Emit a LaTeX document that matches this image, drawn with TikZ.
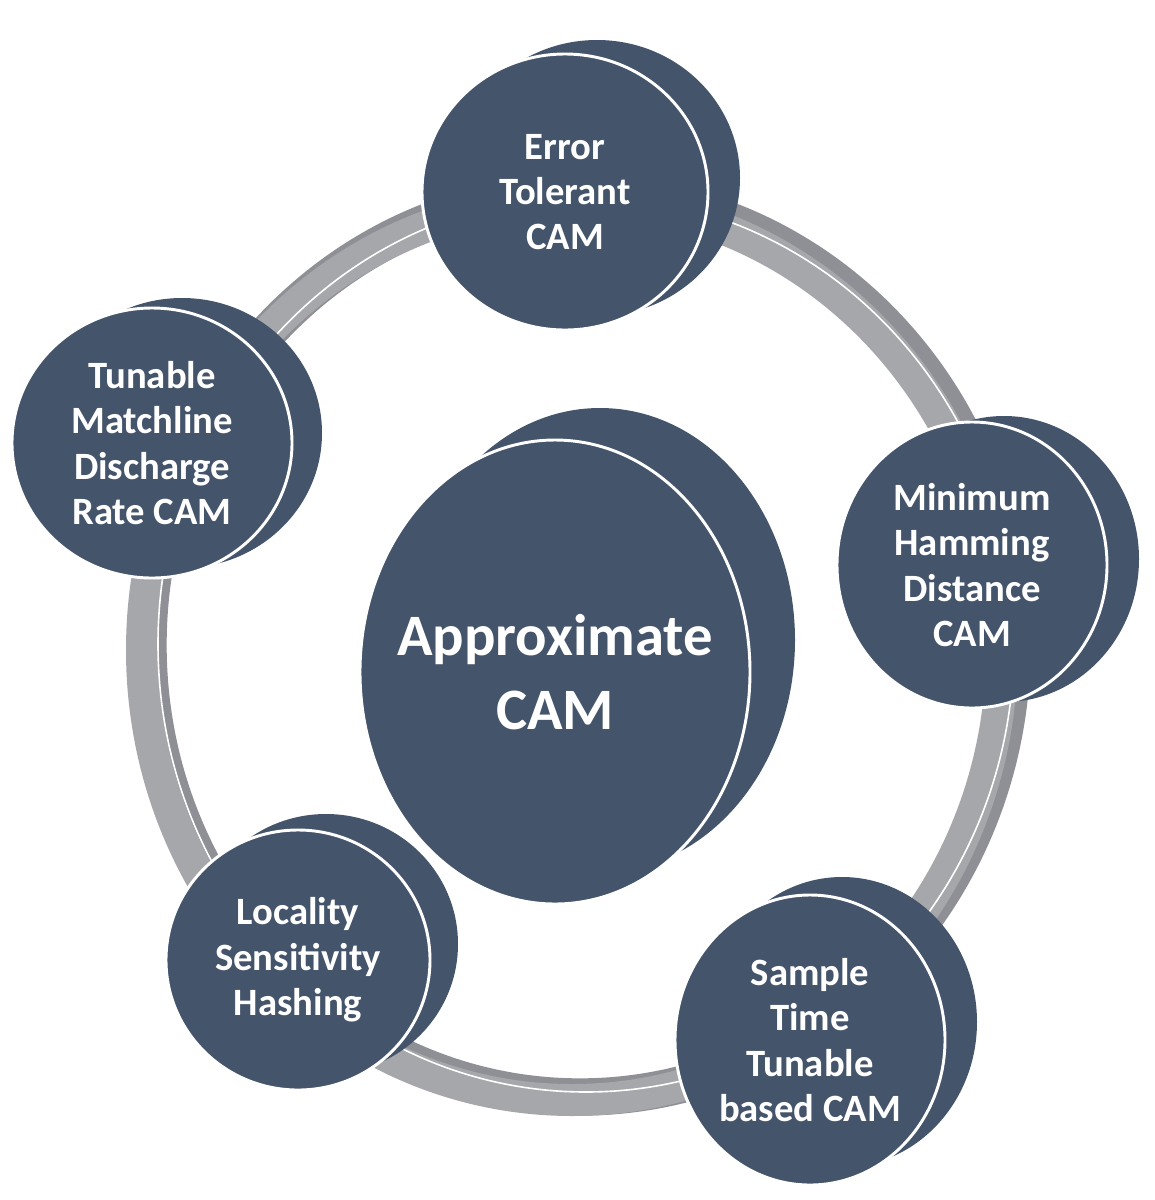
\documentclass[tikz,border=0pt]{standalone}
\usepackage{fontspec}
\setmainfont{Carlito}
\begin{document}
\begin{tikzpicture}[x=0.75pt,y=-0.75pt,
  face/.style={fill=navy,draw=white,line width=2.2pt},
  lbl/.style={text=white,font=\bfseries\fontsize{29}{34}\selectfont,align=center}]
\definecolor{navy}{HTML}{44546A}
\definecolor{ringg}{HTML}{A6A7AB}
\definecolor{ringd}{HTML}{8E9095}
\useasboundingbox (0,0) rectangle (1154,1200);
\fill[white] (0,0) rectangle (1154,1200);
% ring
\draw[ringd,line width=28pt] (580,645) ellipse [x radius=432, y radius=452];
\draw[ringg,line width=24pt] (572,650) ellipse [x radius=430, y radius=450];
\draw[white,line width=1.2pt] (586,644) ellipse [x radius=428, y radius=448];
% discs
\newcommand{\mydisc}[7]{%
  \fill[navy] (#1+#5,#2+#6) ellipse [x radius=#3, y radius=#4];
  \fill[navy] (#1,#2-#4) -- (#1+#5,#2+#6-#4) -- (#1+#5,#2+#6+#4) -- (#1,#2+#4) -- cycle;
  \draw[face] (#1,#2) ellipse [x radius=#3, y radius=#4];
  \node[lbl] (#7) at (#1,#2) {};}
\mydisc{565}{192}{143}{138}{32}{-14}{et}
\mydisc{972}{565}{135}{143}{32}{-6}{mh}
\mydisc{810}{1040}{135}{145}{32}{-18}{st}
\mydisc{298}{960}{132}{130}{28}{-16}{ls}
\mydisc{152}{443}{140}{135}{30}{-10}{tm}
\mydisc{555}{672}{195}{232}{45}{-32}{ac}
\node[lbl] at (et) {Error\\Tolerant\\CAM};
\node[lbl] at (mh) {Minimum\\Hamming\\Distance\\CAM};
\node[lbl] at (st) {Sample\\Time\\Tunable\\based CAM};
\node[lbl] at (ls) {Locality\\Sensitivity\\Hashing};
\node[lbl] at (tm) {Tunable\\Matchline\\Discharge\\Rate CAM};
\node[lbl,font=\bfseries\fontsize{44}{56}\selectfont] at (ac) {Approximate\\CAM};
\end{tikzpicture}
\end{document}
